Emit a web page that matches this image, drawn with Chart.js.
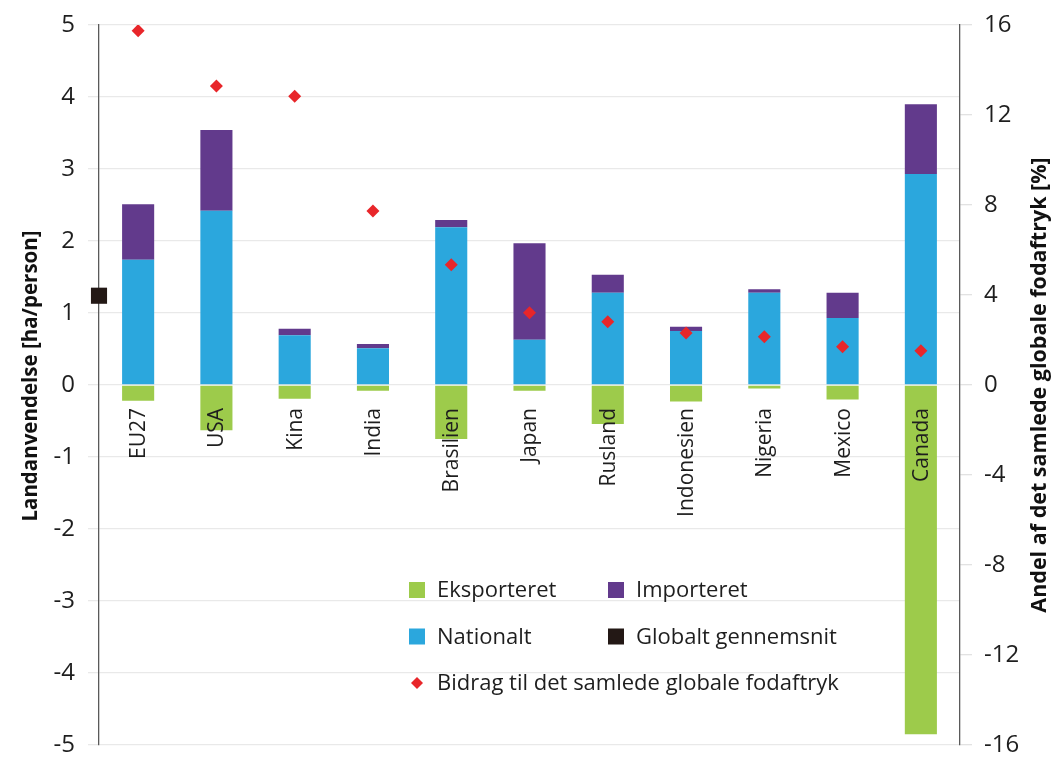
<!DOCTYPE html>
<html>
<head>
<meta charset="utf-8">
<script src="https://cdn.jsdelivr.net/npm/chart.js@4.4.0/dist/chart.umd.min.js"></script>
<style>
  html, body { margin: 0; padding: 0; background: #fff; }
  #wrap { width: 1053px; height: 758px; position: relative; }
</style>
</head>
<body>
<div id="wrap"><canvas id="chart"></canvas></div>
<script>
// lande
const countries = ['EU27', 'USA', 'Kina', 'India', 'Brasilien', 'Japan', 'Rusland', 'Indonesien', 'Nigeria', 'Mexico', 'Canada']

// ha/person
const nationalt   = [1.74, 2.42, 0.69, 0.51, 2.19, 0.63, 1.28, 0.75, 1.28, 0.93, 2.93]
const importeret  = [0.77, 1.12, 0.09, 0.06, 0.10, 1.34, 0.25, 0.06, 0.05, 0.35, 0.97]
const eksporteret = [-0.22, -0.63, -0.19, -0.08, -0.75, -0.08, -0.54, -0.23, -0.05, -0.20, -4.85]

// % af det samlede globale fodaftryk
const bidrag = [15.75, 13.29, 12.83, 7.73, 5.35, 3.21, 2.81, 2.31, 2.15, 1.70, 1.52]

// globalt gennemsnit, sidder på venstre akse
const globaltX = -0.5
const globaltGennemsnit = 1.24

const leftTicks = [-5, -4, -3, -2, -1, 0, 1, 2, 3, 4, 5]
const rightTicks = [-16, -12, -8, -4, 0, 4, 8, 12, 16]

const GREEN = '#9dcb4b'
const BLUE = '#2ba7dd'
const PURPLE = '#623a8c'
const RED = '#e8262a'
const BLACK = '#231815'
const FONT = '"Open Sans", "Noto Sans", sans-serif'

const toPoints = arr => arr.map((v, i) => ({ x: i, y: v }))

// * landenavne under nul-linjen
const countryLabels = {
  id: 'countryLabels',
  afterDatasetsDraw(chart) {
    const { ctx, scales: { x, y } } = chart
    const y0 = y.getPixelForValue(0)
    ctx.save()
    ctx.fillStyle = '#1e1e1e'
    ctx.font = `21px ${FONT}`
    ctx.textAlign = 'right'
    ctx.textBaseline = 'middle'
    countries.forEach((name, i) => {
      ctx.save()
      ctx.translate(x.getPixelForValue(i), y0 + 23)
      ctx.rotate(-Math.PI / 2)
      ctx.fillText(name, 0, 1)
      ctx.restore()
    })
    ctx.restore()
  }
}

// * aksetitler, begge læses nedefra og op
const axisTitles = {
  id: 'axisTitles',
  afterDraw(chart) {
    const { ctx, chartArea } = chart
    const cy = (chartArea.top + chartArea.bottom) / 2
    ctx.save()
    ctx.fillStyle = '#111'
    ctx.textAlign = 'center'
    ctx.textBaseline = 'middle'
    const draw = (txt, cx, yy, size) => {
      ctx.save()
      ctx.font = `bold ${size}px ${FONT}`
      ctx.translate(cx, yy)
      ctx.rotate(-Math.PI / 2)
      ctx.fillText(txt, 0, 0)
      ctx.restore()
    }
    draw('Landanvendelse [ha/person]', 31, cy - 9, 20.5)
    draw('Andel af det samlede globale fodaftryk [%]', 1040, cy, 21.5)
    ctx.restore()
  }
}

// * legenden inde i plottet, to kolonner
const innerLegend = {
  id: 'innerLegend',
  afterDraw(chart) {
    const { ctx, chartArea } = chart
    const l = chartArea.left
    const t = chartArea.top
    const items = [
      { label: 'Eksporteret', color: GREEN, col: 0, row: 0, shape: 'sq' },
      { label: 'Importeret', color: PURPLE, col: 1, row: 0, shape: 'sq' },
      { label: 'Nationalt', color: BLUE, col: 0, row: 1, shape: 'sq' },
      { label: 'Globalt gennemsnit', color: BLACK, col: 1, row: 1, shape: 'sq' },
      { label: 'Bidrag til det samlede globale fodaftryk', color: RED, col: 0, row: 2, shape: 'dia' },
    ]
    ctx.save()
    ctx.font = `22px ${FONT}`
    ctx.textBaseline = 'middle'
    ctx.textAlign = 'left'
    items.forEach(it => {
      const mx = l + 310 + it.col * 199
      const my = t + 565 + it.row * 46.5
      ctx.fillStyle = it.color
      if (it.shape === 'sq') {
        ctx.fillRect(mx, my - 8, 16, 16)
      } else {
        ctx.beginPath()
        ctx.moveTo(mx + 8, my - 6)
        ctx.lineTo(mx + 14, my)
        ctx.lineTo(mx + 8, my + 6)
        ctx.lineTo(mx + 2, my)
        ctx.closePath()
        ctx.fill()
      }
      ctx.fillStyle = '#1e1e1e'
      ctx.fillText(it.label, mx + 28, my + 1)
    })
    ctx.restore()
  }
}

const data = {
  datasets: [
    {
      label: 'Nationalt',
      data: toPoints(nationalt),
      backgroundColor: BLUE,
      yAxisID: 'y',
      order: 2,
    },
    {
      label: 'Importeret',
      data: toPoints(importeret),
      backgroundColor: PURPLE,
      yAxisID: 'y',
      order: 2,
    },
    {
      label: 'Eksporteret',
      data: toPoints(eksporteret),
      backgroundColor: GREEN,
      yAxisID: 'y',
      order: 2,
    },
    {
      type: 'scatter',
      label: 'Bidrag til det samlede globale fodaftryk',
      data: toPoints(bidrag),
      yAxisID: 'y1',
      pointStyle: 'rectRot',
      pointRadius: 6.5,
      backgroundColor: RED,
      borderWidth: 0,
      order: 0,
    },
    {
      type: 'scatter',
      label: 'Globalt gennemsnit',
      data: [{ x: globaltX, y: globaltGennemsnit }],
      yAxisID: 'y2',
      pointStyle: 'rect',
      pointRadius: 11.4,
      backgroundColor: BLACK,
      borderWidth: 0,
      clip: false,
      order: 0,
    },
  ]
}

// ingen ekstra plads til halve tick-labels, vi styrer selv padding
const noPad = s => { s.paddingTop = 0; s.paddingBottom = 0 }

const config = {
  type: 'bar',
  data: data,
  options: {
    responsive: true,
    maintainAspectRatio: false,
    animation: false,
    barPercentage: 0.41,
    categoryPercentage: 1,
    layout: { padding: { top: 25, bottom: 13, left: 0, right: 0 } },
    plugins: {
      legend: { display: false },
      tooltip: { enabled: false },
    },
    scales: {
      x: {
        type: 'linear',
        min: -0.5,
        max: 10.5,
        offset: false,
        stacked: true,
        display: false,
      },
      y: {
        position: 'left',
        stacked: true,
        min: -5,
        max: 5,
        afterBuildTicks: s => { s.ticks = leftTicks.map(v => ({ value: v })) },
        afterFit: s => { s.width = 99; noPad(s) },
        grid: { color: '#e9e9e9', lineWidth: 1.3, tickLength: 11, drawTicks: true },
        border: { color: '#5a5a5a', width: 1.3 },
        ticks: { color: '#1e1e1e', font: { family: FONT, size: 24 }, padding: 13 },
      },
      y1: {
        position: 'right',
        min: -16,
        max: 16,
        afterBuildTicks: s => { s.ticks = rightTicks.map(v => ({ value: v })) },
        afterFit: s => { s.width = 93; noPad(s) },
        grid: { drawOnChartArea: false, color: '#e2e2e2', lineWidth: 1.3, tickLength: 12 },
        border: { color: '#5a5a5a', width: 1.3 },
        ticks: { color: '#1e1e1e', font: { family: FONT, size: 24 }, padding: 12 },
      },
      y2: {
        display: false,
        min: -5,
        max: 5,
      },
    },
  },
  plugins: [countryLabels, axisTitles, innerLegend],
}

const myChart = new Chart(document.getElementById('chart'), config)
</script>
</body>
</html>
